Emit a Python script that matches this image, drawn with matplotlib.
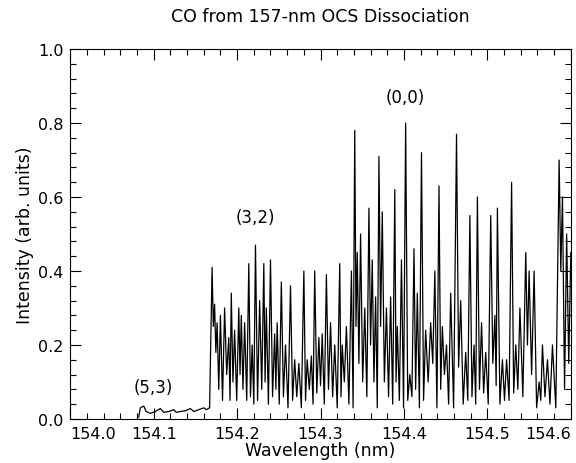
import numpy as np
import matplotlib.pyplot as plt
from matplotlib.ticker import MultipleLocator

# (5,3) band: weak trace before the main bands
low_wl = [154.082, 154.084, 154.088, 154.091, 154.096, 154.102, 154.108, 154.112,
          154.118, 154.124, 154.127, 154.132, 154.138, 154.144, 154.148, 154.154,
          154.160, 154.163, 154.167]
low_int = [0.005, 0.030, 0.035, 0.020, 0.015, 0.020, 0.028, 0.018,
           0.020, 0.025, 0.018, 0.020, 0.022, 0.028, 0.020, 0.025,
           0.030, 0.025, 0.030]

# (3,2) and (0,0) bands: peak tops
peak_wl = [154.170, 154.173, 154.176, 154.180, 154.185, 154.190, 154.193, 154.197, 154.202, 154.205,
           154.209, 154.214, 154.218, 154.222, 154.227, 154.232, 154.235, 154.240, 154.245, 154.248,
           154.253, 154.258, 154.264, 154.269, 154.274, 154.280, 154.284, 154.289, 154.293, 154.298,
           154.302, 154.307, 154.312, 154.317, 154.323, 154.326, 154.331, 154.337, 154.341, 154.344,
           154.348, 154.353, 154.358, 154.362, 154.366, 154.370, 154.374, 154.379, 154.384, 154.389,
           154.392, 154.397, 154.402, 154.407, 154.412, 154.416, 154.421, 154.426, 154.432, 154.437,
           154.442, 154.446, 154.451, 154.456, 154.463, 154.468, 154.474, 154.479, 154.484, 154.488,
           154.493, 154.498, 154.504, 154.509, 154.512, 154.518, 154.523, 154.529, 154.534, 154.539,
           154.546, 154.550, 154.556, 154.562, 154.566, 154.572, 154.578, 154.586, 154.590, 154.595,
           154.600]
peak_int = [0.41, 0.31, 0.26, 0.28, 0.30, 0.22, 0.34, 0.24, 0.30, 0.28,
            0.26, 0.42, 0.20, 0.47, 0.32, 0.42, 0.30, 0.43, 0.23, 0.26,
            0.37, 0.20, 0.36, 0.16, 0.15, 0.40, 0.16, 0.17, 0.40, 0.22,
            0.23, 0.39, 0.26, 0.20, 0.42, 0.20, 0.25, 0.40, 0.78, 0.45,
            0.50, 0.30, 0.57, 0.43, 0.33, 0.71, 0.56, 0.30, 0.33, 0.62,
            0.25, 0.43, 0.80, 0.12, 0.46, 0.34, 0.72, 0.24, 0.26, 0.40,
            0.63, 0.25, 0.20, 0.34, 0.77, 0.32, 0.18, 0.55, 0.20, 0.60,
            0.26, 0.18, 0.55, 0.28, 0.57, 0.16, 0.16, 0.64, 0.20, 0.30,
            0.45, 0.40, 0.40, 0.10, 0.20, 0.16, 0.20, 0.70, 0.60, 0.50,
            0.45]
# minima between consecutive peaks
valley_int = [0.25, 0.18, 0.08, 0.05, 0.12, 0.05, 0.10, 0.05, 0.12, 0.08,
              0.05, 0.06, 0.04, 0.05, 0.08, 0.10, 0.04, 0.06, 0.08, 0.04,
              0.06, 0.03, 0.05, 0.06, 0.03, 0.05, 0.08, 0.04, 0.07, 0.09,
              0.04, 0.08, 0.06, 0.03, 0.06, 0.10, 0.04, 0.03, 0.25, 0.15,
              0.10, 0.06, 0.20, 0.10, 0.03, 0.25, 0.10, 0.06, 0.04, 0.10,
              0.05, 0.03, 0.05, 0.06, 0.08, 0.03, 0.05, 0.10, 0.15, 0.03,
              0.08, 0.12, 0.04, 0.03, 0.14, 0.04, 0.05, 0.06, 0.04, 0.08,
              0.07, 0.04, 0.15, 0.09, 0.04, 0.05, 0.05, 0.07, 0.08, 0.06,
              0.20, 0.12, 0.03, 0.05, 0.06, 0.04, 0.03, 0.40, 0.08, 0.15]

band_labels = ['(5,3)', '(3,2)', '(0,0)']
band_label_pos = [(154.100, 0.085), (154.222, 0.545), (154.402, 0.87)]

# polyline: weak band, then peak / valley / peak ...
x = list(low_wl)
y = list(low_int)
for i in range(len(peak_wl)):
    x.append(peak_wl[i])
    y.append(peak_int[i])
    if i < len(valley_int):
        x.append((peak_wl[i] + peak_wl[i + 1]) / 2)
        y.append(valley_int[i])

fig = plt.figure(figsize=(5.76, 4.64), dpi=100)
ax = fig.add_axes([0.122, 0.095, 0.869, 0.797])
ax.plot(x, y, color='black', lw=0.9)

xt = [154.0, 154.1, 154.2, 154.3, 154.4, 154.5, 154.6]
ax.set_xticks(xt)
ax.set_xticklabels(['%.1f' % v for v in xt])
ax.set_yticks([0.0, 0.2, 0.4, 0.6, 0.8, 1.0])
ax.set_yticklabels(['0.0', '0.2', '0.4', '0.6', '0.8', '1.0'])
ax.xaxis.set_minor_locator(MultipleLocator(0.02))
ax.yaxis.set_minor_locator(MultipleLocator(0.04))
ax.set_xlim(154.0, 154.6)
ax.set_ylim(0.0, 1.0)
ax.tick_params(which='both', direction='in', top=True, right=True, labelsize=11.5, width=0.8)
ax.tick_params(which='major', length=8, pad=5)
ax.tick_params(which='minor', length=4)
labs = ax.get_xticklabels()
labs[0].set_ha('left')
labs[-1].set_ha('right')
for sp in ax.spines.values():
    sp.set_linewidth(0.8)

for lab, (lx, ly) in zip(band_labels, band_label_pos):
    ax.text(lx, ly, lab, ha='center', va='center', fontsize=12)

ax.set_xlabel('Wavelength (nm)', fontsize=12.5, labelpad=0)
ax.set_ylabel('Intensity (arb. units)', fontsize=12.5, labelpad=3)
ax.set_title('CO from 157-nm OCS Dissociation', fontsize=12.5, pad=20)

fig.savefig('out.png', dpi=100)
